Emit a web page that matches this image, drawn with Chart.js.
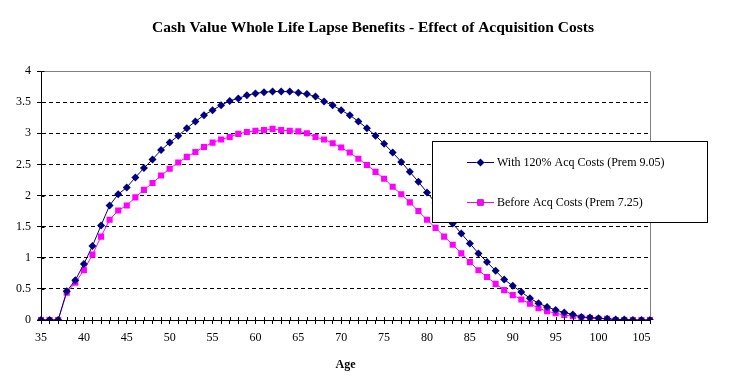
<!DOCTYPE html>
<html>
<head>
<meta charset="utf-8">
<script src="https://cdn.jsdelivr.net/npm/chart.js@4"></script>
<style>
    body { margin: 0; background: #fff; }
    #wrap { width: 747px; height: 391px; }
</style>
</head>
<body>
<div id="wrap"><canvas id="lapseChart" width="747" height="391"></canvas></div>
<script>
// Ages 35..106
const ages = [];
for (let a = 35; a <= 106; a++) ages.push(a);

const withAcqCosts = [
    0, 0, 0, 0.46, 0.64, 0.90, 1.19, 1.52, 1.84, 2.02,
    2.13, 2.29, 2.44, 2.58, 2.73, 2.85, 2.96, 3.08, 3.19, 3.29,
    3.37, 3.45, 3.52, 3.56, 3.61, 3.64, 3.66, 3.67, 3.67, 3.67,
    3.65, 3.63, 3.59, 3.51, 3.45, 3.37, 3.29, 3.19, 3.08, 2.96,
    2.83, 2.69, 2.54, 2.38, 2.22, 2.05, 1.88, 1.71, 1.55, 1.39,
    1.23, 1.07, 0.93, 0.79, 0.65, 0.55, 0.45, 0.35, 0.27, 0.21,
    0.16, 0.12, 0.09, 0.05, 0.04, 0.03, 0.02, 0.01, 0.01, 0, 0, 0
];

const beforeAcqCosts = [
    0, 0, 0, 0.44, 0.60, 0.80, 1.05, 1.34, 1.61, 1.76,
    1.84, 1.97, 2.09, 2.20, 2.32, 2.43, 2.53, 2.62, 2.70, 2.78,
    2.85, 2.90, 2.94, 2.99, 3.02, 3.04, 3.05, 3.07, 3.05, 3.04,
    3.03, 3.00, 2.94, 2.90, 2.84, 2.77, 2.69, 2.59, 2.49, 2.38,
    2.27, 2.14, 2.02, 1.89, 1.75, 1.61, 1.48, 1.34, 1.21, 1.07,
    0.93, 0.80, 0.69, 0.58, 0.48, 0.40, 0.33, 0.26, 0.19, 0.14,
    0.11, 0.08, 0.06, 0.04, 0.03, 0.02, 0.02, 0, 0, 0, 0, 0
];

const seriesNames = ['With 120% Acq Costs (Prem 9.05)', 'Before Acq Costs (Prem 7.25)'];
const yTicks = [0, 0.5, 1, 1.5, 2, 2.5, 3, 3.5, 4];
const chartTitle = 'Cash Value Whole Life Lapse Benefits - Effect of Acquisition Costs';

const serif = "'Liberation Serif', 'Times New Roman', serif";

// title centred on the whole canvas (the built-in one centres on the padded box)
const titlePlugin = {
    id: 'pageTitle',
    afterDraw(chart) {
        const { ctx } = chart;
        ctx.save();
        ctx.fillStyle = '#000';
        ctx.font = 'bold 15.5px ' + serif;
        ctx.textAlign = 'center';
        ctx.textBaseline = 'middle';
        ctx.fillText(chartTitle, 373, 28);
        ctx.restore();
    }
};

// gray frame on top/right + tick marks crossing both axes (Excel style)
const framePlugin = {
    id: 'frame',
    afterDatasetsDraw(chart) {
        const { ctx, chartArea: a, scales } = chart;
        const top = Math.round(a.top) + 0.5;
        const right = Math.round(a.right) + 0.5;
        const left = Math.round(a.left) + 0.5;
        ctx.save();
        ctx.strokeStyle = '#808080';
        ctx.lineWidth = 1;
        ctx.beginPath();
        ctx.moveTo(left, top);
        ctx.lineTo(right, top);
        ctx.lineTo(right, a.bottom);
        ctx.stroke();
        ctx.strokeStyle = '#000';
        ctx.beginPath();
        scales.x.ticks.forEach((t, i) => {
            const x = Math.round(scales.x.getPixelForTick(i)) + 0.5;
            ctx.moveTo(x, a.bottom - 3);
            ctx.lineTo(x, a.bottom);
        });
        scales.y.ticks.forEach((t, i) => {
            const y = Math.round(scales.y.getPixelForTick(i)) + 0.5;
            ctx.moveTo(left, y);
            ctx.lineTo(left + 3, y);
        });
        ctx.stroke();
        ctx.restore();
    }
};

// boxed legend placed over the plot like the original
const boxLegend = {
    id: 'boxLegend',
    afterDraw(chart) {
        const { ctx } = chart;
        const box = { x: 432.5, y: 141.5, w: 275, h: 81 };
        ctx.save();
        ctx.fillStyle = '#fff';
        ctx.fillRect(box.x, box.y, box.w, box.h);
        ctx.strokeStyle = '#000';
        ctx.lineWidth = 1;
        ctx.strokeRect(box.x, box.y, box.w, box.h);
        const rows = [162, 202];
        chart.data.datasets.forEach((ds, i) => {
            const y = rows[i];
            ctx.strokeStyle = ds.borderColor;
            ctx.beginPath();
            ctx.moveTo(467, y + 0.5);
            ctx.lineTo(494, y + 0.5);
            ctx.stroke();
            Chart.helpers.drawPoint(ctx, {
                pointStyle: ds.pointStyle,
                radius: ds.pointRadius,
                rotation: 0,
                borderWidth: 0
            }, 480.5, y + 0.5);
            ctx.fillStyle = ds.pointBackgroundColor;
            ctx.fill();
            ctx.fillStyle = '#000';
            ctx.font = '12px ' + serif;
            ctx.textBaseline = 'middle';
            ctx.fillText(ds.label, 497, y + 1);
        });
        ctx.restore();
    }
};

new Chart(document.getElementById('lapseChart'), {
    type: 'line',
    data: {
        labels: ages,
        datasets: [{
            label: seriesNames[0],
            data: withAcqCosts,
            borderColor: '#000080',
            backgroundColor: '#000080',
            pointBackgroundColor: '#000080',
            pointBorderColor: '#000080',
            pointStyle: 'rectRot',
            pointRadius: 4,
            pointBorderWidth: 0,
            borderWidth: 1,
            tension: 0
        }, {
            label: seriesNames[1],
            data: beforeAcqCosts,
            borderColor: '#FF00FF',
            backgroundColor: '#FF00FF',
            pointBackgroundColor: '#FF00FF',
            pointBorderColor: '#FF00FF',
            pointStyle: 'rect',
            pointRadius: 4.3,
            pointBorderWidth: 0,
            borderWidth: 1,
            tension: 0
        }]
    },
    options: {
        responsive: false,
        animation: false,
        layout: {
            padding: { left: 0, right: 97, top: 71, bottom: 19 }
        },
        plugins: {
            legend: { display: false },
            tooltip: { enabled: false },
            title: { display: false }
        },
        scales: {
            x: {
                type: 'category',
                offset: false,
                grid: {
                    drawOnChartArea: false,
                    drawTicks: true,
                    tickLength: 4,
                    color: '#000'
                },
                border: { color: '#000', width: 1 },
                ticks: {
                    autoSkip: false,
                    maxRotation: 0,
                    color: '#000',
                    padding: 7,
                    font: { family: serif, size: 12 },
                    callback: function(value, index) {
                        const age = ages[index];
                        return (age - 35) % 5 === 0 ? String(age) : '';
                    }
                },
                title: {
                    display: true,
                    text: 'Age',
                    color: '#000',
                    font: { family: serif, size: 12, weight: 'bold' },
                    padding: { top: 2, bottom: 0 }
                },
                afterFit(scale) { scale.height = 52; }
            },
            y: {
                min: yTicks[0],
                max: yTicks[yTicks.length - 1],
                afterBuildTicks(scale) {
                    scale.ticks = yTicks.map(v => ({ value: v }));
                },
                grid: {
                    color: ctx => (ctx.tick && ctx.tick.value === yTicks[yTicks.length - 1]) ? 'rgba(0,0,0,0)' : '#000',
                    drawTicks: true,
                    tickLength: 4,
                    tickBorderDash: [],
                    tickColor: '#000'
                },
                border: { color: '#000', width: 1, dash: [4, 3] },
                ticks: {
                    color: '#000',
                    padding: 6,
                    font: { family: serif, size: 12 },
                    callback: v => String(v)
                },
                afterFit(scale) { scale.width = 41; }
            }
        }
    },
    plugins: [framePlugin, boxLegend, titlePlugin]
});
</script>
</body>
</html>
